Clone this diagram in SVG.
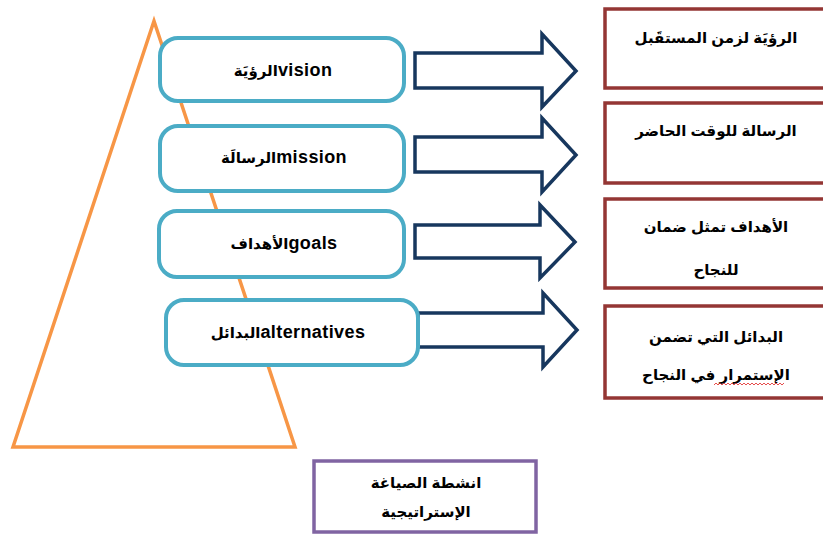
<svg xmlns="http://www.w3.org/2000/svg" width="823" height="536" viewBox="0 0 823 536">
<style>
  .t{font-family:"Liberation Sans","DejaVu Sans",sans-serif;font-weight:bold;font-size:15px;fill:#000;text-anchor:middle}
  .en{font-size:18px;letter-spacing:0.4px}
  .lbox{fill:#fff;stroke:#4BACC6;stroke-width:4}
  .rbox{fill:#fff;stroke:#943634;stroke-width:3.5}
  .arr{fill:#fff;stroke:#17375E;stroke-width:3.5;stroke-linejoin:miter}
</style>
<rect width="823" height="536" fill="#fff"/>
<g id="pyramid">
  <polygon points="154,21 13,447 295,447" fill="none" stroke="#F79646" stroke-width="3.5"/>
</g>
<g id="connectors">
  <polygon class="arr" points="415,53 542,53 542,34 576,71 542,107 542,88 415,88"/>
  <polygon class="arr" points="415,137 542,137 542,118 576,155 542,192 542,172 415,172"/>
  <polygon class="arr" points="415,225 540,225 540,205 575,242 540,278 540,258 415,258"/>
  <polygon class="arr" points="418,313 543,313 543,293 577,330 543,367 543,347 418,347"/>
</g>
<g id="vision">
  <rect class="lbox" x="160" y="38" width="244" height="63" rx="18"/>
  <text class="t" x="283" y="76">الرؤيَة<tspan class="en">vision</tspan></text>
</g>
<g id="mission">
  <rect class="lbox" x="160" y="126" width="244" height="65" rx="18"/>
  <text class="t" x="284" y="163">الرسالَة<tspan class="en">mission</tspan></text>
</g>
<g id="goals">
  <rect class="lbox" x="159" y="211" width="245" height="66" rx="18"/>
  <text class="t" x="284" y="249">الأهداف<tspan class="en">goals</tspan></text>
</g>
<g id="alternatives">
  <rect class="lbox" x="166" y="300" width="252" height="65" rx="18"/>
  <text class="t" x="288" y="338">البدائل<tspan class="en">alternatives</tspan></text>
</g>
<g id="r1">
  <rect class="rbox" x="605" y="9" width="240" height="79"/>
  <text class="t" x="716" y="43">الرؤيَة لزمن المستقَبل</text>
</g>
<g id="r2">
  <rect class="rbox" x="605" y="103" width="240" height="80"/>
  <text class="t" x="716" y="136">الرسالة للوقت الحاضر</text>
</g>
<g id="r3">
  <rect class="rbox" x="605" y="199" width="240" height="89"/>
  <text class="t" x="716" y="232">الأهداف تمثل ضمان</text>
  <text class="t" x="716" y="275">للنجاح</text>
</g>
<g id="r4">
  <rect class="rbox" x="605" y="306" width="240" height="92"/>
  <text class="t" x="716" y="342">البدائل التي تضمن</text>
  <text class="t" x="716" y="380">الإستمرار في النجاح</text>
  <path d="M714,385 l2,-2 l2,2 l2,-2 l2,2 l2,-2 l2,2 l2,-2 l2,2 l2,-2 l2,2 l2,-2 l2,2 l2,-2 l2,2 l2,-2 l2,2 l2,-2 l2,2 l2,-2 l2,2 l2,-2 l2,2 l2,-2 l2,2 l2,-2 l2,2 l2,-2 l2,2 l2,-2 l2,2 l2,-2 l2,2 l2,-2 l2,2 l2,-2" fill="none" stroke="#E02020" stroke-width="0.8"/>
</g>
<g id="formulation">
  <rect x="314" y="461" width="222" height="71" fill="#fff" stroke="#8064A2" stroke-width="3.5"/>
  <text class="t" x="426" y="488">انشطة الصياغة</text>
  <text class="t" x="426" y="517">الإستراتيجية</text>
</g>
</svg>
